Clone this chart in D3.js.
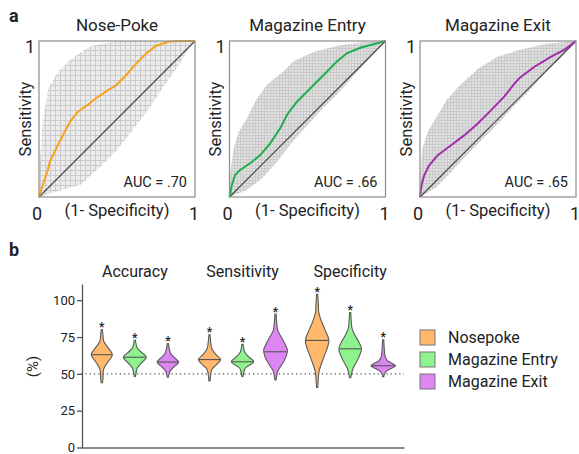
<!DOCTYPE html>
<html>
<head>
<meta charset="utf-8">
<script src="https://cdn.jsdelivr.net/npm/d3@7"></script>
<style>
  body { margin: 0; background: #fff; }
  text { font-family: Roboto, "Liberation Sans", sans-serif; fill: #222; }
</style>
</head>
<body>
<svg id="fig" width="579" height="454"></svg>
<script>
// ---- panel a : ROC curves ----
const rocTitles = ["Nose-Poke", "Magazine Entry", "Magazine Exit"];
const aucLabels = ["AUC = .70", "AUC = .66", "AUC = .65"];
const rocColors = ["#f7a21b", "#1fae4b", "#a32cae"];

// mean ROC curves [1-specificity, sensitivity]
const nosePokeRoc = [[0,0],[0.015,0.05],[0.039,0.12],[0.055,0.17],[0.071,0.23],[0.1,0.29],[0.124,0.338],[0.16,0.41],[0.19,0.466],[0.22,0.51],[0.253,0.55],[0.318,0.594],[0.36,0.63],[0.403,0.658],[0.45,0.69],[0.489,0.712],[0.554,0.776],[0.618,0.85],[0.682,0.915],[0.747,0.968],[0.833,0.996],[0.918,1],[1,1]];
const entryRoc = [[0,0],[0.015,0.077],[0.036,0.141],[0.068,0.173],[0.132,0.216],[0.197,0.269],[0.261,0.344],[0.325,0.44],[0.368,0.526],[0.432,0.611],[0.496,0.675],[0.56,0.739],[0.624,0.803],[0.688,0.868],[0.752,0.921],[0.838,0.957],[0.923,0.979],[1,1]];
const exitRoc = [[0,0],[0.009,0.073],[0.026,0.137],[0.058,0.202],[0.112,0.266],[0.197,0.33],[0.283,0.395],[0.369,0.47],[0.455,0.555],[0.541,0.645],[0.6,0.72],[0.64,0.765],[0.734,0.835],[0.841,0.9],[0.927,0.945],[1,1]];

// bootstrap envelopes (upper / lower edge of grey curves)
const nosePokeUpper = [[0,0],[0.005,0.2],[0.02,0.45],[0.06,0.7],[0.12,0.8],[0.19,0.87],[0.27,0.93],[0.34,0.97],[0.45,0.99],[0.51,1],[1,1]];
const nosePokeLower = [[0,0],[0.1,0.03],[0.27,0.08],[0.4,0.2],[0.5,0.3],[0.6,0.43],[0.7,0.56],[0.8,0.71],[0.9,0.85],[0.97,0.97],[1,1]];
const entryUpper = [[0,0],[0.005,0.15],[0.026,0.31],[0.06,0.42],[0.11,0.5],[0.17,0.62],[0.24,0.72],[0.35,0.81],[0.41,0.87],[0.54,0.93],[0.69,0.97],[0.84,0.99],[1,1]];
const entryLower = [[0,0],[0.1,0.04],[0.2,0.11],[0.3,0.22],[0.4,0.35],[0.5,0.46],[0.6,0.57],[0.7,0.67],[0.8,0.78],[0.9,0.89],[1,1]];
const exitUpper = [[0,0],[0.005,0.18],[0.015,0.31],[0.05,0.42],[0.11,0.52],[0.17,0.62],[0.24,0.7],[0.37,0.82],[0.5,0.9],[0.63,0.94],[0.8,0.98],[1,1]];
const exitLower = [[0,0],[0.1,0.06],[0.2,0.16],[0.3,0.27],[0.4,0.37],[0.5,0.47],[0.6,0.58],[0.7,0.68],[0.8,0.79],[0.9,0.89],[1,1]];

const rocCurves = [nosePokeRoc, entryRoc, exitRoc];
const rocUpper = [nosePokeUpper, entryUpper, exitUpper];
const rocLower = [nosePokeLower, entryLower, exitLower];

// ---- panel b : violins ----
const groups = ["Accuracy", "Sensitivity", "Specificity"];
const seriesNames = ["Nosepoke", "Magazine Entry", "Magazine Exit"];
const seriesFill = ["#ffb86c", "#8ef28e", "#dd85f2"];
const yTicks = [0, 25, 50, 75, 100];
const chanceLevel = 50;

const nosepokeMedians = [63, 59.7, 72.7];
const entryMedians = [61.3, 58.2, 67];
const exitMedians = [58, 65, 55.5];

// [value %, relative density]
const nosepokeViolins = [
  [[44,0],[47,0.05],[53,0.1],[58,0.45],[63,0.83],[68,0.45],[72,0.12],[76,0.05],[80,0]],
  [[45.2,0],[50,0.06],[53,0.15],[56,0.5],[59.7,0.88],[63,0.5],[67,0.15],[71,0.06],[76.5,0]],
  [[40.7,0],[47,0.05],[52,0.12],[60,0.45],[72.7,0.93],[80,0.6],[87,0.25],[92,0.08],[97,0.05],[104,0]]
];
const entryViolins = [
  [[48.3,0],[51,0.06],[54,0.15],[57,0.45],[61.3,0.9],[65,0.45],[67.5,0.15],[70,0.06],[72.7,0]],
  [[48.3,0],[51,0.06],[54,0.2],[58.2,0.88],[62,0.4],[65,0.12],[67,0.06],[70,0]],
  [[47.4,0],[50,0.06],[54,0.2],[60,0.6],[67,0.89],[72,0.65],[77,0.3],[81,0.1],[85,0.05],[91.7,0]]
];
const exitViolins = [
  [[47.7,0],[50,0.06],[52,0.15],[55,0.5],[58,0.85],[61,0.5],[64,0.18],[67,0.07],[70.5,0]],
  [[45.8,0],[49,0.06],[52,0.15],[56,0.45],[61,0.8],[66,0.94],[71,0.7],[76,0.35],[80,0.12],[84,0.06],[90.6,0]],
  [[48.1,0],[50,0.06],[52,0.25],[54,0.7],[55.5,0.97],[57,0.7],[59,0.3],[62,0.1],[66,0.05],[73.2,0]]
];
const allViolins = [nosepokeViolins, entryViolins, exitViolins];
const allMedians = [nosepokeMedians, entryMedians, exitMedians];

const svg = d3.select("#fig");
const defs = svg.append("defs");

// grey mesh texture for bootstrap ROC curves
[["mesh0", 5, "#ececec", "#cbcbcb"], ["mesh1", 3, "#e0e0e0", "#cacaca"], ["mesh2", 3, "#e0e0e0", "#cacaca"]].forEach(([id, s, bg, fg]) => {
  const p = defs.append("pattern").attr("id", id).attr("patternUnits", "userSpaceOnUse")
    .attr("width", s).attr("height", s);
  p.append("rect").attr("width", s).attr("height", s).attr("fill", bg);
  p.append("path").attr("d", `M0 0.5H${s}M0.5 0V${s}`).attr("stroke", fg).attr("stroke-width", 1);
});

// panel letters
svg.append("text").attr("x", 9).attr("y", 22).style("font-weight", "bold").style("font-size", "18px").text("a");
svg.append("text").attr("x", 9).attr("y", 256).style("font-weight", "bold").style("font-size", "18px").text("b");

const panelX = d3.scaleBand().domain(rocTitles).range([39, 576]).paddingInner(0.181);
const rocY = d3.scaleLinear().domain([0, 1]).range([197, 41]);

rocTitles.forEach((title, i) => {
  const x0 = panelX(title), w = panelX.bandwidth();
  const x = d3.scaleLinear().domain([0, 1]).range([x0, x0 + w]);
  const g = svg.append("g");
  const line = d3.line().x(d => x(d[0])).y(d => rocY(d[1]));

  const band = rocUpper[i].concat(rocLower[i].slice().reverse());
  g.append("path").attr("d", line(band) + "Z").attr("fill", `url(#mesh${i})`);

  g.append("line").attr("x1", x(0)).attr("y1", rocY(0)).attr("x2", x(1)).attr("y2", rocY(1))
    .attr("stroke", "#444").attr("stroke-width", 1.1);

  g.append("path").attr("d", line(rocCurves[i])).attr("fill", "none")
    .attr("stroke", rocColors[i]).attr("stroke-width", 2);

  g.append("rect").attr("x", x(0)).attr("y", rocY(1)).attr("width", w).attr("height", rocY(0) - rocY(1))
    .attr("fill", "none").attr("stroke", "#8c8c8c").attr("stroke-width", 1.2);

  g.append("text").attr("x", x(0.5)).attr("y", 31).attr("text-anchor", "middle")
    .style("font-size", "17px").text(title);
  g.append("text").attr("x", x(0) - 9).attr("y", rocY(1) + 12).attr("text-anchor", "middle")
    .style("font-size", "18px").text("1");
  g.append("text").attr("x", x(0) - 2).attr("y", 220).attr("text-anchor", "middle")
    .style("font-size", "18px").text("0");
  g.append("text").attr("x", x(1) - 1).attr("y", 220).attr("text-anchor", "middle")
    .style("font-size", "18px").text("1");
  g.append("text").attr("x", x(0.5)).attr("y", 216).attr("text-anchor", "middle")
    .style("font-size", "16.5px").text("(1- Specificity)");
  g.append("text").attr("transform", `translate(${x(0) - 8},${rocY(0.5)}) rotate(-90)`)
    .attr("text-anchor", "middle").style("font-size", "16.5px").text("Sensitivity");
  g.append("text").attr("x", x(1) - 8).attr("y", 187).attr("text-anchor", "end")
    .style("font-size", "14.5px").text(aucLabels[i]);
});

// ---- violin plot ----
const y = d3.scaleLinear().domain([0, 111]).range([447.5, 284]);
const gx = d3.scaleBand().domain(groups).range([81, 404]);
const sx = d3.scalePoint().domain(seriesNames).range([0, gx.bandwidth()]).padding(0.63);
const wScale = d3.scaleLinear().domain([0, 1]).range([0, 12]);

const yAxis = svg.append("g").attr("transform", "translate(82,0)")
  .call(d3.axisLeft(y).tickValues(yTicks).tickSize(5).tickSizeOuter(0).tickPadding(2));
yAxis.selectAll("path, line").attr("stroke", "#555").attr("stroke-width", 1.3);
yAxis.selectAll("text").style("font-size", "13px").style("font-family", "Roboto, sans-serif").attr("fill", "#333");

const xAxis = svg.append("g").attr("transform", `translate(0,${y(0)})`)
  .call(d3.axisBottom(gx).tickSize(0).tickFormat(""));
xAxis.selectAll("path").attr("stroke", "#666").attr("stroke-width", 1.3);

svg.append("text").attr("transform", `translate(38,${y(55)}) rotate(-90)`).attr("text-anchor", "middle")
  .style("font-size", "15px").text("(%)");

svg.append("line").attr("x1", gx.range()[0]).attr("x2", gx.range()[1])
  .attr("y1", y(chanceLevel)).attr("y2", y(chanceLevel))
  .attr("stroke", "#555").attr("stroke-width", 1.3).attr("stroke-dasharray", "1.3,3");

groups.forEach(gname => {
  svg.append("text").attr("x", gx(gname) + gx.bandwidth() / 2).attr("y", 277)
    .attr("text-anchor", "middle").style("font-size", "16px").text(gname);
});

seriesNames.forEach((sname, si) => {
  groups.forEach((gname, gi) => {
    const cx = gx(gname) + sx(sname);
    const prof = allViolins[si][gi];
    const area = d3.area().curve(d3.curveCatmullRom.alpha(0.5))
      .y(d => y(d[0])).x0(d => cx - wScale(d[1]) - 0.6).x1(d => cx + wScale(d[1]) + 0.6);
    svg.append("path").attr("d", area(prof)).attr("fill", seriesFill[si])
      .attr("stroke", "#5a5a5a").attr("stroke-width", 1.1);
    const med = allMedians[si][gi];
    const dens = d3.scaleLinear().domain(prof.map(d => d[0])).range(prof.map(d => d[1]))(med);
    svg.append("line").attr("x1", cx - wScale(dens)).attr("x2", cx + wScale(dens))
      .attr("y1", y(med)).attr("y2", y(med)).attr("stroke", "#555").attr("stroke-width", 1.1);
    const top = d3.max(prof, d => d[0]);
    svg.append("text").attr("x", cx).attr("y", y(top) + 1.5).attr("text-anchor", "middle")
      .style("font-size", "12px").style("font-weight", "bold").text("*");
  });
});

// legend
const legend = svg.append("g").attr("transform", "translate(420,330)");
seriesNames.forEach((sname, si) => {
  legend.append("rect").attr("x", 0).attr("y", si * 22).attr("width", 15).attr("height", 15)
    .attr("fill", seriesFill[si]).attr("stroke", "#777").attr("stroke-width", 1);
  legend.append("text").attr("x", 28).attr("y", si * 22 + 13).style("font-size", "16px").text(sname);
});
</script>
</body>
</html>
